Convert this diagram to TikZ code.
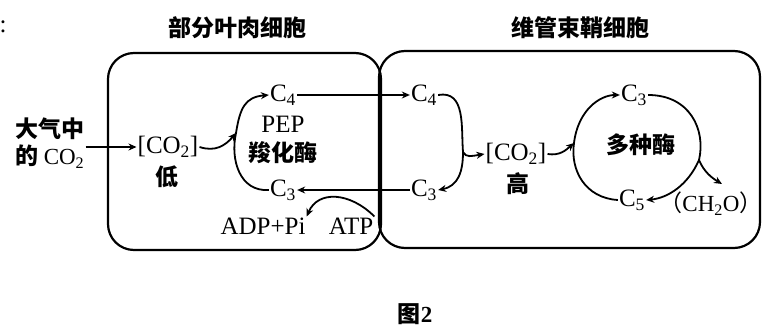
\documentclass[tikz,border=0pt]{standalone}
\usepackage{fontspec}
\setmainfont{Liberation Serif}
\newfontfamily\cjk{Noto Sans CJK SC}
\usetikzlibrary{arrows.meta}
\begin{document}
\begin{tikzpicture}[x=1pt,y=-1pt,
  lat/.style={font=\fontsize{25}{27}\selectfont, inner sep=1pt},
  zh/.style={font=\cjk\bfseries\fontsize{23}{27}\selectfont, inner sep=1pt},
  cell/.style={line width=2.2pt, rounded corners=26pt},
  arr/.style={line width=1.8pt, -{Stealth[length=8pt,width=7pt]}},
  ln/.style={line width=1.8pt}]
\useasboundingbox (0,0) rectangle (767,329);
% cells
\draw[cell] (108,53) rectangle (381,250);
\draw[cell] (379,51) rectangle (760,248);
% titles
\node[zh] (t1) at (237,28) {部分叶肉细胞};
\node[zh] (t2) at (580,28) {维管束鞘细胞};
\node[lat] (colon) at (3,27) {:};
% left cell
\node[zh, align=left] (air) at (50,143) {大气中\\的 {\rmfamily\mdseries CO\textsubscript{2}}};
\node[lat] (co2a) at (168,147) {[CO\textsubscript{2}]};
\node[zh] (low) at (167,177) {低};
\node[lat] (c4a) at (283,95) {C\textsubscript{4}};
\node[lat] (pep) at (283,124) {PEP};
\node[zh] (enz) at (283,153) {羧化酶};
\node[lat] (c3a) at (283,190) {C\textsubscript{3}};
\node[lat] (adp) at (263,226) {ADP+Pi};
\node[lat] (atp) at (351,226) {ATP};
% right cell
\node[lat] (c4b) at (424,95) {C\textsubscript{4}};
\node[lat] (c3b) at (424,190) {C\textsubscript{3}};
\node[lat] (co2b) at (516,154) {[CO\textsubscript{2}]};
\node[zh] (high) at (518,184) {高};
\node[lat] (c3c) at (634,95) {C\textsubscript{3}};
\node[zh] (enz2) at (641,145) {多种酶};
\node[lat] (c5) at (632,200) {C\textsubscript{5}};
\node[lat, font=\fontsize{23}{25}\selectfont, inner sep=0pt] (ch2o) at (711,204) {{\cjk （}CH\textsubscript{2}O{\cjk ）}};
\node[zh] (fig) at (415,314) {图{\rmfamily 2}};
% junction coordinates
\coordinate (j1) at (236,133);
\coordinate (j2) at (463,152);
\coordinate (j3) at (574,143);
\coordinate (j4) at (699,160);
% connectors left
\draw[arr] (air.east |- co2a.west) -- (co2a.west);
\draw[arr] (c4a.east) -- (c4b.west);
\draw[arr] (c3b.west) -- (c3a.east);
\draw[arr] (c3a.west) .. controls (240,192) and (230,160) .. (j1) .. controls (240,108) and (245,97) .. (c4a.west);
\draw[arr] (co2a.east) .. controls (215,152) and (225,146) .. (j1);
\draw[arr] (atp.north east) .. controls (350,192) and (318,190) .. (adp.north east);
% connectors right
\draw[ln] (c4b.east) .. controls (466,90) and (461,128) .. (j2);
\draw[arr] (j2) .. controls (466,158) and (472,156) .. (co2b.west);
\draw[arr] (j2) .. controls (463,172) and (458,186) .. (c3b.east);
\draw[arr] (co2b.east) .. controls (560,156) and (566,150) .. (j3);
\draw[arr] (c5.west) .. controls (585,198) and (570,170) .. (j3) .. controls (578,110) and (600,95) .. (c3c.west);
\draw[ln] (c3c.east) .. controls (690,95) and (706,130) .. (j4);
\draw[arr] (j4) .. controls (688,185) and (668,198) .. (c5.east);
\draw[arr] (j4) .. controls (704,172) and (712,178) .. (722,184);
\end{tikzpicture}
\end{document}
